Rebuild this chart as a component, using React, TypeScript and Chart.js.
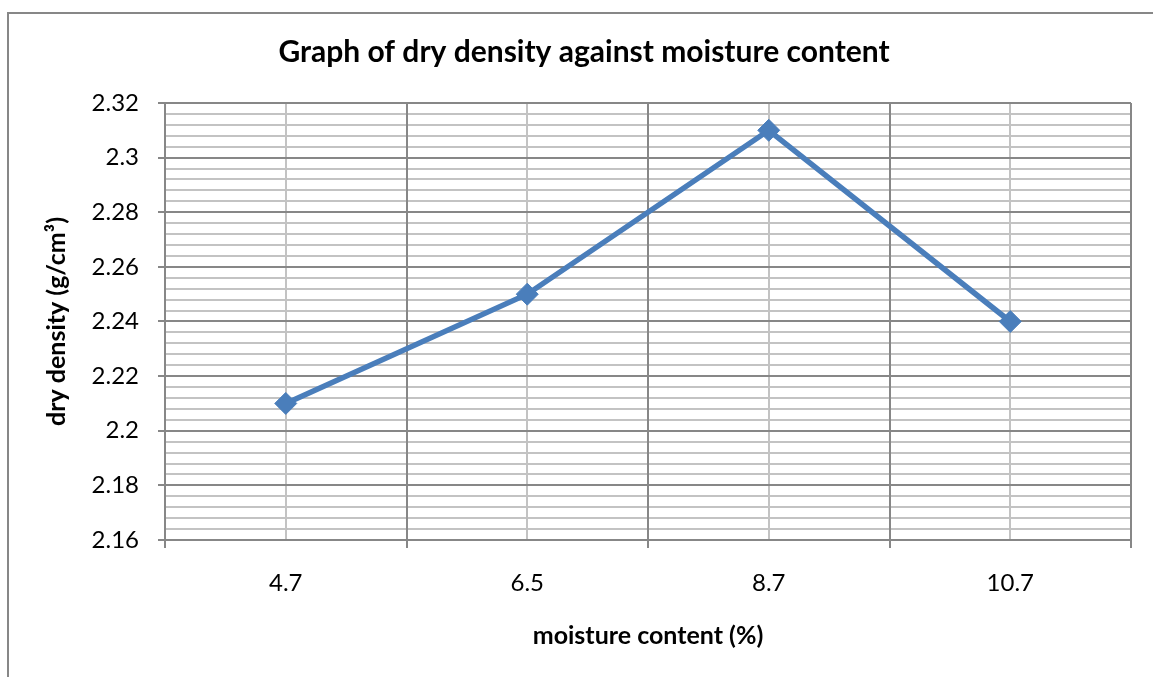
import React, { useEffect, useRef } from "react";
import { Chart, registerables } from "chart.js";

Chart.register(...registerables);

const categories: string[] = ["4.7", "6.5", "8.7", "10.7"];
const dryDensity: number[] = [2.21, 2.25, 2.31, 2.24];
const yMin = 2.16;
const yMax = 2.32;
const yMajorStep = 0.02;
const yMinorStep = 0.004;

const titleText = "Graph of dry density against moisture content";
const xTitle = "moisture content (%)";
const yTitle = "dry density (g/cm³)";

const FONT = "Lato";
const MAJOR = "#878787";
const MINOR = "#c3c3c3";
const BLUE = "#4a7ebb";

export default function App() {
  const canvasRef = useRef<HTMLCanvasElement | null>(null);

  useEffect(() => {
    const canvas = canvasRef.current;
    if (!canvas) return;
    const chart = new Chart(canvas, {
      type: "line",
      data: {
        labels: categories,
        datasets: [
          {
            label: "dry density",
            data: dryDensity,
            borderColor: BLUE,
            backgroundColor: BLUE,
            borderWidth: 5.5,
            pointStyle: "rectRot",
            pointRadius: 11,
            pointBorderWidth: 1,
            pointBackgroundColor: BLUE,
            pointBorderColor: BLUE,
            tension: 0,
            xAxisID: "x",
            yAxisID: "y",
          },
        ],
      },
      options: {
        responsive: false,
        animation: false,
        devicePixelRatio: 1,
        layout: { padding: { left: 15, right: 0, top: 0, bottom: 0 } },
        plugins: {
          legend: { display: false },
          tooltip: { enabled: false },
          title: {
            display: true,
            text: titleText,
            color: "#000",
            font: { family: FONT, size: 30, weight: "bold", lineHeight: 1.2 },
            padding: { top: 34, bottom: 33 },
          },
        },
        scales: {
          x: {
            type: "category",
            position: "bottom",
            offset: true,
            grid: {
              offset: true,
              color: MAJOR,
              lineWidth: 2,
              drawTicks: true,
              tickLength: 8,
              tickColor: MAJOR,
              z: -1,
            },
            border: { display: true, color: MAJOR, width: 2 },
            ticks: {
              color: "#000",
              font: { family: FONT, size: 24 },
              padding: 21,
              maxRotation: 0,
            },
            title: {
              display: true,
              text: xTitle,
              color: "#000",
              font: { family: FONT, size: 25, weight: "bold", lineHeight: 1.2 },
              padding: { top: 0, bottom: 26 },
            },
            afterFit: (s: any) => {
              s.height = 137;
            },
          },
          xMinor: {
            type: "category",
            position: "bottom",
            offset: true,
            grid: {
              offset: false,
              color: MINOR,
              lineWidth: 2,
              drawTicks: false,
              z: -2,
            },
            border: { display: false },
            ticks: { display: false },
            afterFit: (s: any) => {
              s.height = 0;
            },
          },
          y: {
            type: "linear",
            position: "left",
            min: yMin,
            max: yMax,
            grid: {
              color: MAJOR,
              lineWidth: 2,
              drawTicks: true,
              tickLength: 7,
              tickColor: MAJOR,
              z: -1,
            },
            border: { display: true, color: MAJOR, width: 2 },
            ticks: {
              stepSize: yMajorStep,
              color: "#000",
              font: { family: FONT, size: 24 },
              padding: 19,
              callback: (v: any) => String(parseFloat(Number(v).toFixed(2))),
            },
            title: {
              display: true,
              text: yTitle,
              color: "#000",
              font: { family: FONT, size: 25, weight: "bold", lineHeight: 1.2 },
              padding: { top: 27, bottom: 0 },
            },
            afterFit: (s: any) => {
              s.width = 150;
            },
          },
          yMinor: {
            type: "linear",
            position: "right",
            min: yMin,
            max: yMax,
            grid: {
              color: MINOR,
              lineWidth: 2,
              drawTicks: false,
              z: -2,
            },
            border: { display: false },
            ticks: { display: false, stepSize: yMinorStep },
            afterFit: (s: any) => {
              s.width = 22;
            },
          },
        },
      },
    });
    return () => chart.destroy();
  }, []);

  return (
    <div
      style={{
        position: "fixed",
        left: 0,
        top: 0,
        width: 1153,
        height: 677,
        background: "#fff",
        overflow: "hidden",
      }}
    >
      <div
        style={{
          position: "absolute",
          left: 7,
          top: 12,
          width: 1160,
          height: 700,
          borderLeft: `2px solid ${MAJOR}`,
          borderTop: `2px solid ${MAJOR}`,
          boxSizing: "border-box",
        }}
      />
      <canvas
        ref={canvasRef}
        width={1153}
        height={677}
        style={{ position: "absolute", left: 0, top: 0, width: 1153, height: 677 }}
      />
    </div>
  );
}
